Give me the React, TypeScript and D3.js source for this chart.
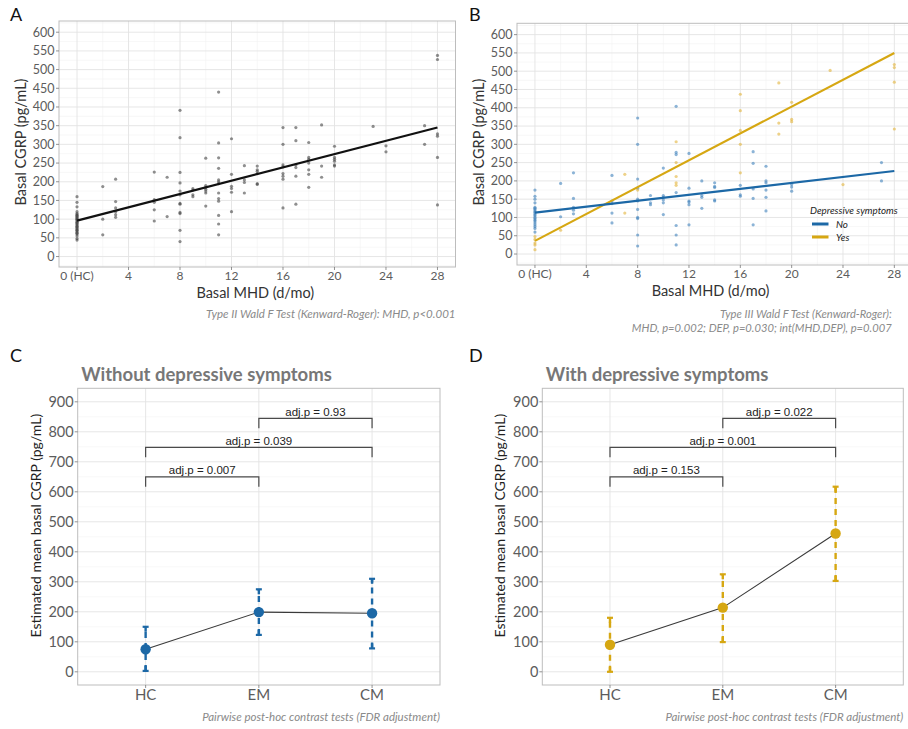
import React from "react";
import * as d3 from "d3";

// ---- panel A / B axes ----
const mhdTicks = [0, 4, 8, 12, 16, 20, 24, 28];
const mhdMinor = [2, 6, 10, 14, 18, 22, 26];
const mhdTickLabels = ["0 (HC)", "4", "8", "12", "16", "20", "24", "28"];
const cgrpTicks = [0, 50, 100, 150, 200, 250, 300, 350, 400, 450, 500, 550, 600];
const cgrpMinor = [-25, 25, 75, 125, 175, 225, 275, 325, 375, 425, 475, 525, 575, 625];

// ---- panel A points [MHD, CGRP] ----
const pointsA: [number, number][] = [
  [0, 160], [0, 145], [0, 133], [0, 120], [0, 115], [0, 112], [0, 110], [0, 108], [0, 105], [0, 102],
  [0, 100], [0, 98], [0, 95], [0, 92], [0, 90], [0, 88], [0, 85], [0, 82], [0, 80], [0, 78],
  [0, 75], [0, 72], [0, 70], [0, 68], [0, 65], [0, 62], [0, 60], [0, 55], [0, 48], [0, 44],
  [2, 187], [2, 100], [2, 58],
  [3, 207], [3, 147], [3, 130], [3, 120], [3, 112], [3, 105],
  [6, 226], [6, 152], [6, 145], [6, 125], [6, 95],
  [7, 212], [7, 107],
  [8, 391], [8, 318], [8, 225], [8, 197], [8, 175], [8, 165], [8, 142], [8, 140], [8, 118], [8, 115], [8, 70], [8, 40],
  [9, 182], [9, 178], [9, 165], [9, 160],
  [10, 263], [10, 190], [10, 185], [10, 180], [10, 175], [10, 170], [10, 135],
  [11, 440], [11, 304], [11, 264], [11, 236], [11, 205], [11, 200], [11, 195], [11, 170], [11, 155], [11, 148], [11, 110], [11, 87], [11, 58],
  [12, 315], [12, 220], [12, 188], [12, 182], [12, 172], [12, 120],
  [13, 243], [13, 205], [13, 198], [13, 170],
  [14, 242], [14, 232], [14, 228], [14, 222], [14, 195], [14, 193],
  [16, 345], [16, 300], [16, 245], [16, 240], [16, 222], [16, 215], [16, 207], [16, 130],
  [17, 345], [17, 310], [17, 245], [17, 238], [17, 215], [17, 140],
  [18, 305], [18, 265], [18, 260], [18, 250], [18, 232], [18, 220], [18, 185],
  [19, 352], [19, 242], [19, 212],
  [20, 295], [20, 265], [20, 260], [20, 255], [20, 245], [20, 242],
  [23, 348],
  [24, 296], [24, 280],
  [27, 350], [27, 300],
  [28, 538], [28, 527], [28, 328], [28, 322], [28, 265], [28, 138],
];
const fitA: [number, number][] = [[0, 96], [28, 345]];

// ---- panel B points ----
const pointsNo: [number, number][] = [
  [0, 175], [0, 158], [0, 150], [0, 140], [0, 128], [0, 125], [0, 122], [0, 118], [0, 115], [0, 112],
  [0, 108], [0, 105], [0, 100], [0, 97], [0, 93], [0, 90], [0, 85], [0, 80], [0, 75], [0, 70], [0, 60],
  [2, 193], [2, 102],
  [3, 222], [3, 152], [3, 128], [3, 120], [3, 110],
  [6, 215], [6, 145], [6, 138], [6, 112], [6, 85],
  [8, 372], [8, 300], [8, 205], [8, 180], [8, 150], [8, 145], [8, 122], [8, 100], [8, 97], [8, 52], [8, 22],
  [9, 160], [9, 140], [9, 135],
  [10, 235], [10, 160], [10, 155], [10, 148], [10, 140], [10, 108],
  [11, 404], [11, 278], [11, 272], [11, 168], [11, 78], [11, 52], [11, 25],
  [12, 275], [12, 180], [12, 145], [12, 142], [12, 135], [12, 80],
  [13, 200], [13, 160], [13, 155], [13, 125],
  [14, 195], [14, 185], [14, 182], [14, 148], [14, 145],
  [16, 188], [16, 162], [16, 158],
  [17, 280], [17, 248], [17, 178], [17, 152], [17, 80],
  [18, 240], [18, 200], [18, 195], [18, 175], [18, 155], [18, 118],
  [20, 190], [20, 183], [20, 172],
  [27, 250], [27, 200],
];
const pointsYes: [number, number][] = [
  [0, 48], [0, 40], [0, 30], [0, 25], [0, 12],
  [2, 65],
  [7, 218], [7, 112],
  [8, 175],
  [11, 307], [11, 250], [11, 212], [11, 195], [11, 188],
  [16, 437], [16, 392], [16, 338], [16, 300], [16, 222],
  [19, 468], [19, 358], [19, 328],
  [20, 415], [20, 368], [20, 362],
  [23, 502],
  [24, 190],
  [28, 518], [28, 510], [28, 470], [28, 342],
];
const fitNo: [number, number][] = [[0, 113], [28, 227]];
const fitYes: [number, number][] = [[0, 36], [28, 550]];

// ---- panels C / D ----
const groups = ["HC", "EM", "CM"];
const estTicks = [0, 100, 200, 300, 400, 500, 600, 700, 800, 900];
const estMinor = [50, 150, 250, 350, 450, 550, 650, 750, 850];
const estNo = [75, 199, 195];
const loNo = [3, 123, 78];
const hiNo = [150, 275, 310];
const estYes = [90, 214, 461];
const loYes = [0, 99, 303];
const hiYes = [180, 325, 617];
const bracketPairs: [string, string][] = [["HC", "EM"], ["HC", "CM"], ["EM", "CM"]];
const bracketLevels = [650, 748, 845];
const pLabelsNo = ["adj.p = 0.007", "adj.p = 0.039", "adj.p = 0.93"];
const pLabelsYes = ["adj.p = 0.153", "adj.p = 0.001", "adj.p = 0.022"];

const FONT = "Lato, 'Open Sans', sans-serif";
const GRID_MAJOR = "#e3e3e3";
const GRID_MINOR = "#f1f1f1";
const BORDER = "#bdbdbd";
const TICK_TEXT = "#5c5c5c";
const BLUE = "#1c68a6";
const BLUE_PT = "#3f82bd";
const YELLOW = "#d6a712";
const YELLOW_PT = "#e2b43a";

type Box = { x0: number; x1: number; y0: number; y1: number };

const ScatterPanel = ({ box, yDomain, series, fits, children }: {
  box: Box;
  yDomain: [number, number];
  series: { pts: [number, number][]; color: string }[];
  fits: { pts: [number, number][]; color: string }[];
  children?: React.ReactNode;
}) => {
  const x = d3.scaleLinear().domain([-1.4, 29.4]).range([box.x0, box.x1]);
  const y = d3.scaleLinear().domain(yDomain).range([box.y1, box.y0]);
  const line = d3.line<[number, number]>().x((d) => x(d[0])).y((d) => y(d[1]));
  const clipId = `clip-${box.x0}`;
  return (
    <g>
      <defs>
        <clipPath id={clipId}>
          <rect x={box.x0} y={box.y0} width={box.x1 - box.x0} height={box.y1 - box.y0} />
        </clipPath>
      </defs>
      {cgrpMinor.map((v) => (
        <line key={"ym" + v} x1={box.x0} x2={box.x1} y1={y(v)} y2={y(v)} stroke={GRID_MINOR} strokeWidth={0.6} />
      ))}
      {mhdMinor.map((v) => (
        <line key={"xm" + v} x1={x(v)} x2={x(v)} y1={box.y0} y2={box.y1} stroke={GRID_MINOR} strokeWidth={0.6} />
      ))}
      {cgrpTicks.map((v) => (
        <line key={"yg" + v} x1={box.x0} x2={box.x1} y1={y(v)} y2={y(v)} stroke={GRID_MAJOR} strokeWidth={0.9} />
      ))}
      {mhdTicks.map((v) => (
        <line key={"xg" + v} x1={x(v)} x2={x(v)} y1={box.y0} y2={box.y1} stroke={GRID_MAJOR} strokeWidth={0.9} />
      ))}
      <g clipPath={`url(#${clipId})`}>
        {series.map((s, i) =>
          s.pts.map((p, j) => (
            <circle key={i + "-" + j} cx={x(p[0])} cy={y(p[1])} r={1.6} fill={s.color} fillOpacity={0.6} />
          ))
        )}
        {fits.map((f, i) => (
          <path key={"f" + i} d={line(f.pts) || ""} stroke={f.color} strokeWidth={2.2} fill="none" />
        ))}
      </g>
      <rect x={box.x0} y={box.y0} width={box.x1 - box.x0} height={box.y1 - box.y0} fill="none" stroke={BORDER} strokeWidth={1} />
      {cgrpTicks.map((v) => (
        <g key={"yt" + v}>
          <line x1={box.x0 - 3} x2={box.x0} y1={y(v)} y2={y(v)} stroke="#777" strokeWidth={0.8} />
          <text x={box.x0 - 4.5} y={y(v)} dy="0.35em" textAnchor="end" fontSize={12.5} fill={TICK_TEXT} fontFamily={FONT}>{v}</text>
        </g>
      ))}
      {mhdTicks.map((v, i) => (
        <g key={"xt" + v}>
          <line x1={x(v)} x2={x(v)} y1={box.y1} y2={box.y1 + 3} stroke="#777" strokeWidth={0.8} />
          <text x={x(v)} y={box.y1 + 12.5} textAnchor="middle" fontSize={12} fill={TICK_TEXT} fontFamily={FONT}>{mhdTickLabels[i]}</text>
        </g>
      ))}
      <text x={(box.x0 + Math.min(box.x1, 908)) / 2 - 2} y={box.y1 + 30.5} textAnchor="middle" fontSize={14.5} fill="#333" fontFamily={FONT}>Basal MHD (d/mo)</text>
      <text transform={`translate(${box.x0 - 33},${(box.y0 + box.y1) / 2 - 2}) rotate(-90)`} textAnchor="middle" fontSize={14.5} fill="#333" fontFamily={FONT}>Basal  CGRP (pg/mL)</text>
      {children}
    </g>
  );
};

const EstimatePanel = ({ box, est, lo, hi, color, title, labels }: {
  box: Box; est: number[]; lo: number[]; hi: number[]; color: string; title: string; labels: string[];
}) => {
  const x = d3.scalePoint<string>().domain(groups).range([box.x0, box.x1]).padding(0.6);
  const y = d3.scaleLinear().domain([-44, 945]).range([box.y1, box.y0]);
  const line = d3.line<number>().x((_, i) => x(groups[i]) as number).y((d) => y(d));
  const tip = 33;
  return (
    <g>
      {estMinor.map((v) => (
        <line key={"ym" + v} x1={box.x0} x2={box.x1} y1={y(v)} y2={y(v)} stroke={GRID_MINOR} strokeWidth={0.6} />
      ))}
      {estTicks.map((v) => (
        <line key={"yg" + v} x1={box.x0} x2={box.x1} y1={y(v)} y2={y(v)} stroke={GRID_MAJOR} strokeWidth={0.9} />
      ))}
      {groups.map((g) => (
        <line key={"xg" + g} x1={x(g)} x2={x(g)} y1={box.y0} y2={box.y1} stroke={GRID_MAJOR} strokeWidth={0.9} />
      ))}
      <rect x={box.x0} y={box.y0} width={box.x1 - box.x0} height={box.y1 - box.y0} fill="none" stroke={BORDER} strokeWidth={1} />
      {groups.map((g, i) => {
        const cx = x(g) as number;
        return (
          <g key={"eb" + g}>
            <line x1={cx} x2={cx} y1={y(lo[i])} y2={y(hi[i])} stroke={color} strokeWidth={2.4} strokeDasharray="6,5" />
            <line x1={cx - 3} x2={cx + 3} y1={y(hi[i])} y2={y(hi[i])} stroke={color} strokeWidth={2.2} />
            <line x1={cx - 3} x2={cx + 3} y1={y(lo[i])} y2={y(lo[i])} stroke={color} strokeWidth={2.2} />
            <line x1={cx} x2={cx} y1={y(hi[i])} y2={y(hi[i]) + 5} stroke={color} strokeWidth={2.4} />
            <line x1={cx} x2={cx} y1={y(lo[i])} y2={y(lo[i]) - 5} stroke={color} strokeWidth={2.4} />
          </g>
        );
      })}
      <path d={line(est) || ""} stroke="#3a3a3a" strokeWidth={1.1} fill="none" />
      {groups.map((g, i) => (
        <circle key={"pt" + g} cx={x(g)} cy={y(est[i])} r={5.2} fill={color} />
      ))}
      {bracketPairs.map((pair, i) => {
        const xa = x(pair[0]) as number;
        const xb = x(pair[1]) as number;
        const yy = y(bracketLevels[i]);
        const yt = y(bracketLevels[i] - tip);
        return (
          <g key={"br" + i}>
            <path d={`M${xa},${yt}V${yy}H${xb}V${yt}`} stroke="#4a4a4a" strokeWidth={1.2} fill="none" />
            <text x={(xa + xb) / 2} y={yy - 2.5} textAnchor="middle" fontSize={11.5} fill="#222" fontFamily="'Liberation Sans', Arial, sans-serif">{labels[i]}</text>
          </g>
        );
      })}
      {estTicks.map((v) => (
        <g key={"yt" + v}>
          <line x1={box.x0 - 3} x2={box.x0} y1={y(v)} y2={y(v)} stroke="#777" strokeWidth={0.8} />
          <text x={box.x0 - 4} y={y(v)} dy="0.36em" textAnchor="end" fontSize={14.5} fill={TICK_TEXT} fontFamily={FONT}>{v}</text>
        </g>
      ))}
      {groups.map((g) => (
        <g key={"xt" + g}>
          <line x1={x(g)} x2={x(g)} y1={box.y1} y2={box.y1 + 3} stroke="#777" strokeWidth={0.8} />
          <text x={x(g)} y={box.y1 + 14.5} textAnchor="middle" fontSize={15} fill={TICK_TEXT} fontFamily={FONT}>{g}</text>
        </g>
      ))}
      <text transform={`translate(${box.x0 - 37},${(box.y0 + box.y1) / 2 - 11}) rotate(-90)`} textAnchor="middle" fontSize={14} fill="#222" fontFamily={FONT}>Estimated mean basal CGRP (pg/mL)</text>
      <text x={box.x0 + 3.5} y={box.y0 - 7} fontSize={18.5} fontWeight="bold" fill="#777" fontFamily={FONT}>{title}</text>
      <text x={box.x1} y={box.y1 + 36} textAnchor="end" fontSize={11.5} fontStyle="italic" fill="#8a8a8a" fontFamily={FONT}>Pairwise post-hoc contrast tests (FDR adjustment)</text>
    </g>
  );
};

export default function App() {
  const boxA = { x0: 59, x1: 455.5, y0: 21, y1: 267 };
  const boxB = { x0: 517, x1: 912.3, y0: 23.3, y1: 265 };
  const boxC = { x0: 77.7, x1: 440, y0: 388.3, y1: 685 };
  const boxD = { x0: 542.3, x1: 903.3, y0: 388.3, y1: 685 };
  return (
    <svg width={908} height={729} style={{ position: "absolute", left: 0, top: 0, background: "#fff" }}>
      <rect width={908} height={729} fill="#fff" />
      <text x={10} y={21} fontSize={18} fill="#111" fontFamily={FONT}>A</text>
      <text x={469} y={21} fontSize={18} fill="#111" fontFamily={FONT}>B</text>
      <text x={10} y={362} fontSize={18} fill="#111" fontFamily={FONT}>C</text>
      <text x={469} y={362} fontSize={18} fill="#111" fontFamily={FONT}>D</text>

      <ScatterPanel box={boxA} yDomain={[-28, 630]} series={[{ pts: pointsA, color: "#444" }]} fits={[{ pts: fitA, color: "#111" }]}>
        <text x={455.5} y={318} textAnchor="end" fontSize={11.5} fontStyle="italic" fill="#8a8a8a" fontFamily={FONT}>Type II Wald F Test (Kenward-Roger): MHD, p&lt;0.001</text>
      </ScatterPanel>

      <ScatterPanel box={boxB} yDomain={[-30, 631]}
        series={[{ pts: pointsNo, color: BLUE_PT }, { pts: pointsYes, color: YELLOW_PT }]}
        fits={[{ pts: fitYes, color: YELLOW }, { pts: fitNo, color: BLUE }]}>
        <text x={810} y={213.5} fontSize={9.8} fontStyle="italic" fill="#222" fontFamily={FONT}>Depressive symptoms</text>
        <line x1={812} x2={828.5} y1={224} y2={224} stroke={BLUE} strokeWidth={3} />
        <text x={836} y={227.5} fontSize={9.8} fontStyle="italic" fill="#222" fontFamily={FONT}>No</text>
        <line x1={812} x2={828.5} y1={237} y2={237} stroke={YELLOW} strokeWidth={3} />
        <text x={836} y={240.5} fontSize={9.8} fontStyle="italic" fill="#222" fontFamily={FONT}>Yes</text>
        <text x={891.7} y={318} textAnchor="end" fontSize={11.2} fontStyle="italic" fill="#8a8a8a" fontFamily={FONT}>Type III Wald F Test (Kenward-Roger):</text>
        <text x={891.7} y={332} textAnchor="end" fontSize={11.2} fontStyle="italic" fill="#8a8a8a" fontFamily={FONT}>MHD, p=0.002; DEP, p=0.030; int(MHD,DEP), p=0.007</text>
      </ScatterPanel>

      <EstimatePanel box={boxC} est={estNo} lo={loNo} hi={hiNo} color={BLUE} title="Without depressive symptoms" labels={pLabelsNo} />
      <EstimatePanel box={boxD} est={estYes} lo={loYes} hi={hiYes} color={YELLOW} title="With depressive symptoms" labels={pLabelsYes} />
    </svg>
  );
}
